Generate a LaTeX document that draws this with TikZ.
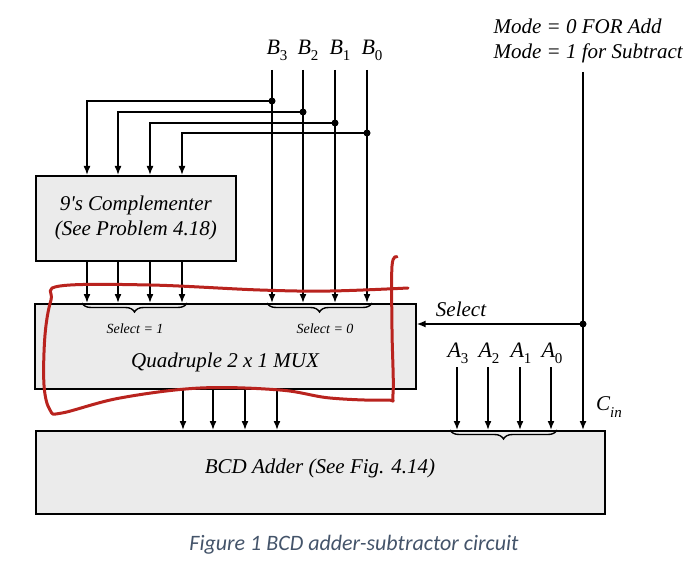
\documentclass[tikz,border=0pt]{standalone}
\usepackage{fontspec}
\setmainfont{Liberation Serif}
\newfontfamily\capfont{Carlito}
\usetikzlibrary{arrows.meta,calc,decorations.pathreplacing}

\definecolor{boxgray}{RGB}{235,235,235}
\definecolor{capblue}{RGB}{68,84,106}
\definecolor{penred}{RGB}{185,35,30}

% signal name with a low, fairly large index
\newcommand{\sig}[2]{\textit{#1}\raisebox{-6pt}{\fontsize{15}{15}\selectfont\upshape #2}}

\begin{document}
\begin{tikzpicture}[x=1pt,y=-1pt,
		wire/.style={line width=1.6pt},
		arr/.style={wire,-{Latex[length=9pt,width=7pt]}},
		blockbox/.style={draw,line width=1.6pt,fill=boxgray,anchor=north west,inner sep=0pt},
		dot/.style={circle,fill,inner sep=0pt,minimum size=7pt},
		lbl/.style={font=\fontsize{21}{25}\selectfont\itshape},
		small/.style={font=\fontsize{14}{16}\selectfont\itshape},
		busbrace/.style={decorate,decoration={brace,mirror,amplitude=9pt},line width=1.4pt}]
		
		\useasboundingbox (0,0) rectangle (700,585);
		
		% The three blocks
		\node[blockbox, minimum width=200, minimum height=85] (comp) at (35,175) {};
		\node[lbl, align=center] (comptxt) at (comp.center) {9\textquotesingle s Complementer\\(See Problem 4.18)};
		\node[blockbox, minimum width=381, minimum height=85] (mux) at (34,303) {};
		\node[blockbox, minimum width=569, minimum height=83] (adder) at (35,430) {};
		
		% Texts inside the blocks
		\node[small] (sel1) at (135,329) {Select = 1};
		\node[small] (sel0) at (325,329) {Select = 0};
		\node[lbl] (muxtxt) at (225,362) {Quadruple 2 x 1 MUX};
		\node[lbl] (addtxt) at (320,468) {BCD Adder (See Fig. 4.14)};
		
		% B inputs: straight to the MUX, tapped to the complementer
		\foreach \x/\cx/\y/\n in {272/87/101/3, 303/118/112/2, 335/150/123/1, 367/182/133/0} {
			\node[lbl, font=\fontsize{22}{25}\selectfont\itshape, anchor=base] (lb\n) at (\x+5,55) {\sig{B}{\n}};
			\coordinate (b\n) at (\x,70);
			\node[dot] (d\n) at (\x,\y) {};
			\coordinate (ci\n) at (\cx,\y);
			\draw[arr] (b\n) -- (b\n |- mux.north);
			\draw[arr] (d\n.center) -- (ci\n) -- (ci\n |- comp.north);
			\draw[arr] (ci\n |- comp.south) -- (ci\n |- mux.north);
		}
		
		% MUX outputs into the adder
		\foreach \x [count=\i] in {183,213,245,277} {
			\coordinate (m\i) at (\x,388);
			\draw[arr] (m\i |- mux.south) -- (m\i |- adder.north);
		}
		
		% A inputs
		\foreach \x/\n in {457/3, 488/2, 520/1, 551/0} {
			\node[lbl, font=\fontsize{22}{25}\selectfont\itshape, anchor=base] (la\n) at (\x+1,357) {\sig{A}{\n}};
			\coordinate (a\n) at (\x,367);
			\draw[arr] (a\n) -- (a\n |- adder.north);
		}
		
		% Mode line, select tap and carry in
		\node[lbl, align=left, anchor=north west] (mode) at (490,15) {Mode = 0 FOR Add\\Mode = 1 for Subtract};
		\coordinate (modetop) at (583,72);
		\node[dot] (seldot) at (583,324) {};
		\draw[arr] (modetop) -- (modetop |- adder.north);
		\draw[arr] (seldot.center) -- (seldot -| mux.east);
		\node[lbl] (sellbl) at (461,309) {Select};
		\node[lbl, anchor=base] (cinlbl) at (609,410) {\textit{C}\raisebox{-7pt}{\fontsize{15}{15}\selectfont\itshape in}};
		
		% Braces grouping the buses
		\draw[busbrace] ($(ci3 |- mux.north)+(-5,0)$) -- ($(ci0 |- mux.north)+(5,0)$);
		\draw[busbrace] ($(b3 |- mux.north)+(-5,0)$) -- ($(b0 |- mux.north)+(5,0)$);
		\draw[busbrace] ($(a3 |- adder.north)+(-7,0)$) -- ($(a0 |- adder.north)+(6,0)$);
		
		% Red pen mark round the MUX
		\draw[penred, line width=3pt, line cap=round, line join=round] plot[smooth, tension=0.6] coordinates {
			(397,257) (392,266) (392,330) (393,394) (386,400) (330,398) (280,390) (200,388)
			(120,398) (62,413) (50,410) (44,385) (45,335) (51,300) (60,286) (150,285)
			(260,290) (330,291) (408,288)};
		
		\node[font=\capfont\itshape\fontsize{22}{26}\selectfont, text=capblue] (cap) at (354,545) {Figure 1 BCD adder-subtractor circuit};
	\end{tikzpicture}
\end{document}
